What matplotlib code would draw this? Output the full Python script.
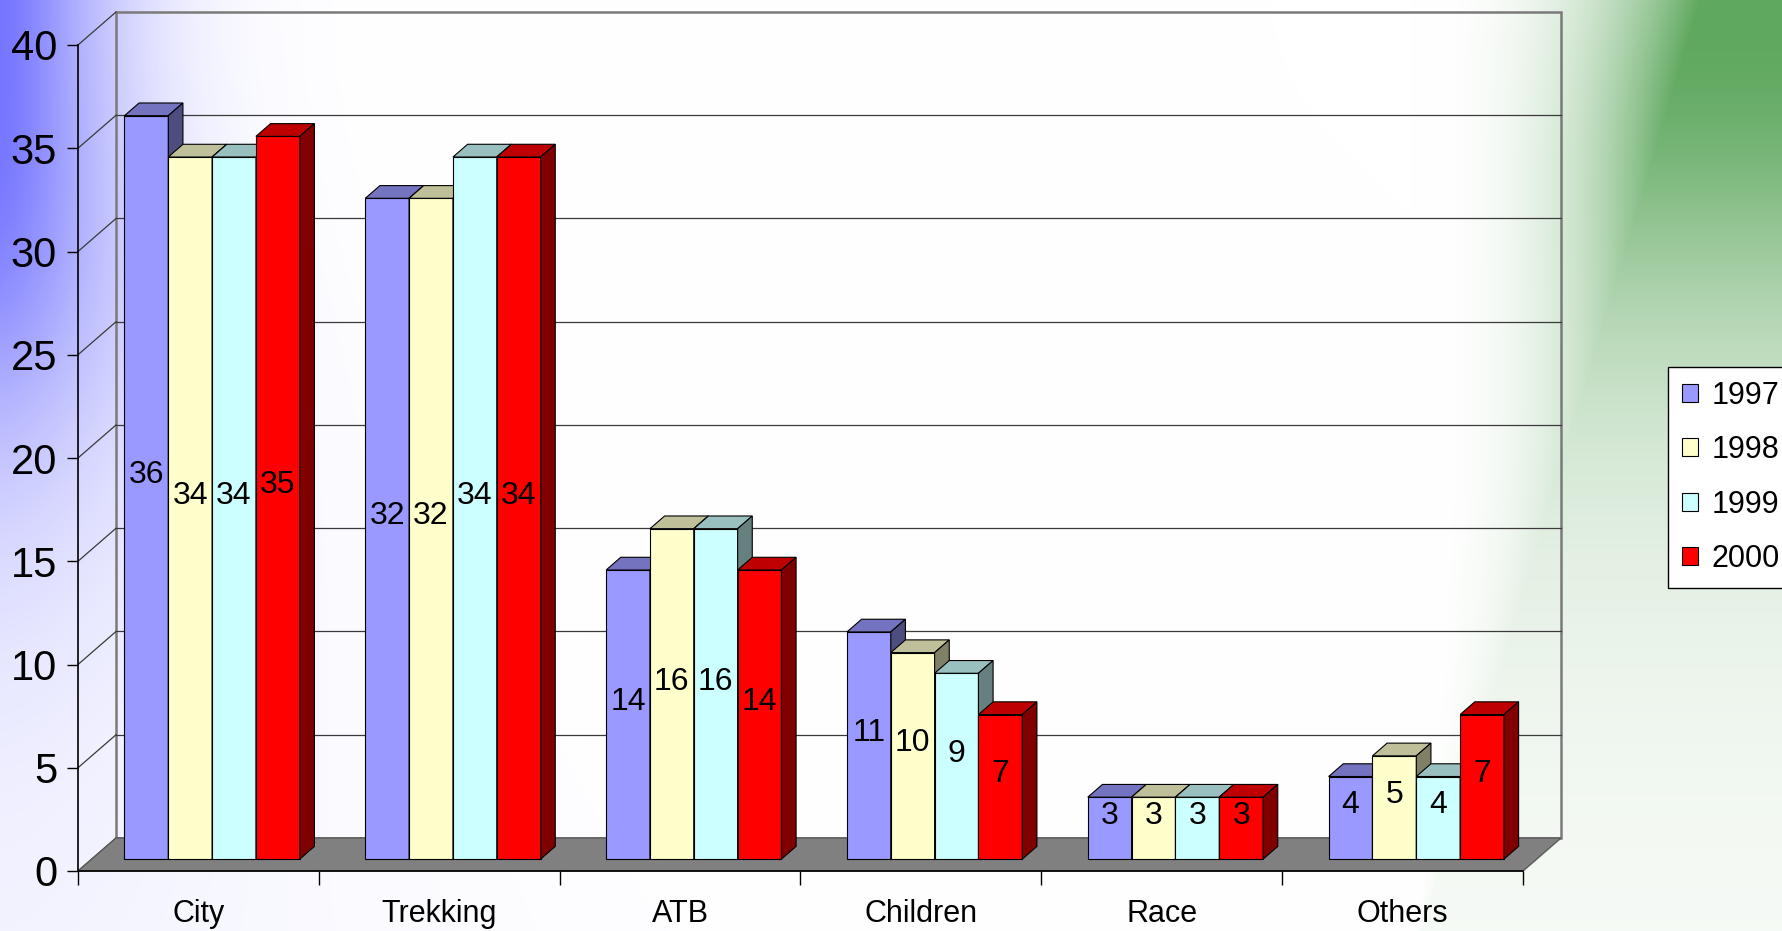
import numpy as np
import matplotlib
matplotlib.use('Agg')
import matplotlib.pyplot as plt
from matplotlib.patches import Polygon, Patch

plt.rcParams['font.family'] = ['Liberation Sans', 'DejaVu Sans']

# data
categories = ['City', 'Trekking', 'ATB', 'Children', 'Race', 'Others']
years = ['1997', '1998', '1999', '2000']
v1997 = [36, 32, 14, 11, 3, 4]
v1998 = [34, 32, 16, 10, 3, 5]
v1999 = [34, 34, 16, 9, 3, 4]
v2000 = [35, 34, 14, 7, 3, 7]
series = [v1997, v1998, v1999, v2000]

front_colors = ['#9999FF', '#FFFFCC', '#CCFFFF', '#FF0000']
top_colors = ['#7373BF', '#BFBF99', '#99BFBF', '#BF0000']
side_colors = ['#4D4D80', '#808066', '#668080', '#800000']

# fake 3d: depth offset of the floor in data units
DX, DY = 0.158, 1.6
F0, F1 = 0.36, 0.745      # bar front / back as fraction of the depth
BW = 0.182                # width of one bar

W, H = 1783, 931
fig = plt.figure(figsize=(W / 100, H / 100), dpi=100)

# background gradient (blue top left, green top right)
yy, xx = np.mgrid[0:H, 0:W].astype(float)
amp_b = 0.9 / (1 + (yy / 410) ** 4) + 0.05
s_b = 115 + 250 * (yy / H) ** 2
b = amp_b * np.exp(-(xx / s_b) ** 1.5)
end_g = 1700 - 0.3 * yy
ramp = np.clip((xx - 1410) / (end_g - 1410), 0, 1) ** 2.5
g = ramp / (1 + (yy / 300) ** 2.5)
img = np.ones((H, W, 3)) * 255
img -= b[..., None] * (255 - np.array([110, 110, 255]))
img -= g[..., None] * (255 - np.array([95, 168, 95]))
bg = fig.add_axes([0, 0, 1, 1], zorder=-10)
bg.imshow(np.clip(img, 0, 255) / 255, aspect='auto')
bg.axis('off')

ax = fig.add_axes([78 / W, 60 / H, 1445 / W, 826 / H])
ax.patch.set_visible(False)
ax.set_xlim(0, len(categories))
ax.set_ylim(0, 40)
n = len(categories)

# back wall, grid and left wall lines
ax.add_patch(Polygon([(DX, DY), (n + DX, DY), (n + DX, 40 + DY), (DX, 40 + DY)], closed=True,
                     fill=False, edgecolor='#7a7a7a', lw=1.8, clip_on=False, zorder=1))
for v in range(5, 40, 5):
    ax.plot([DX, n + DX], [v + DY, v + DY], color='#3a3a3a', lw=0.9, clip_on=False, zorder=1)
for v in range(0, 45, 5):
    ax.plot([0, DX], [v, v + DY], color='#3a3a3a', lw=0.9, clip_on=False, zorder=1)

# floor
ax.add_patch(Polygon([(0, 0), (n, 0), (n + DX, DY), (DX, DY)], closed=True,
                     facecolor='#808080', edgecolor='#5a5a5a', lw=1, clip_on=False, zorder=2))

# bars
gap = (1 - BW * len(years)) / 2
bx, by = DX * F0, DY * F0
ddx, ddy = DX * (F1 - F0), DY * (F1 - F0)
z = 3
for i in range(n):
    for j in range(len(years)):
        v = series[j][i]
        x0 = i + bx + gap + j * BW
        ax.bar(x0, v, BW, bottom=by, align='edge', color=front_colors[j],
               edgecolor='black', lw=0.8, clip_on=False, zorder=z)
        top = [(x0, by + v), (x0 + BW, by + v), (x0 + BW + ddx, by + v + ddy), (x0 + ddx, by + v + ddy)]
        side = [(x0 + BW, by), (x0 + BW + ddx, by + ddy), (x0 + BW + ddx, by + v + ddy), (x0 + BW, by + v)]
        ax.add_patch(Polygon(top, closed=True, facecolor=top_colors[j], edgecolor='black',
                             lw=0.8, clip_on=False, zorder=z))
        ax.add_patch(Polygon(side, closed=True, facecolor=side_colors[j], edgecolor='black',
                             lw=0.8, clip_on=False, zorder=z))
        ax.text(x0 + BW / 2, by + v / 2 + 0.6, str(v), ha='center', va='center',
                fontsize=23, color='black', zorder=100)
        z += 1

# front axes
for s in ['top', 'right']:
    ax.spines[s].set_visible(False)
ax.spines['left'].set_linewidth(1.2)
ax.spines['bottom'].set_linewidth(1.2)
ax.spines['left'].set_zorder(200)
ax.spines['bottom'].set_zorder(200)
ax.set_yticks(range(0, 45, 5))
ax.tick_params(axis='y', length=8, width=1, direction='out', pad=7, labelsize=30)
ax.set_xticks(range(0, n + 1))
ax.set_xticks([i + 0.5 for i in range(n)], minor=True)
ax.set_xticklabels(categories, minor=True)
ax.tick_params(axis='x', which='major', length=10, width=1, labelbottom=False)
ax.tick_params(axis='x', which='minor', length=0, pad=20, labelsize=22)

# legend
handles = [Patch(facecolor=front_colors[j], edgecolor='black', lw=0.8) for j in range(len(years))]
leg = fig.legend(handles, years, loc='upper left', bbox_to_anchor=(1668 / W, 1 - 367 / H),
                 borderaxespad=0, fontsize=22, frameon=True, fancybox=False, framealpha=1,
                 handlelength=0.52, handleheight=0.52, handletextpad=0.45,
                 labelspacing=0.8, borderpad=0.45)
leg.get_frame().set_edgecolor('black')
leg.get_frame().set_linewidth(1)

fig.savefig('out.png', dpi=100)
